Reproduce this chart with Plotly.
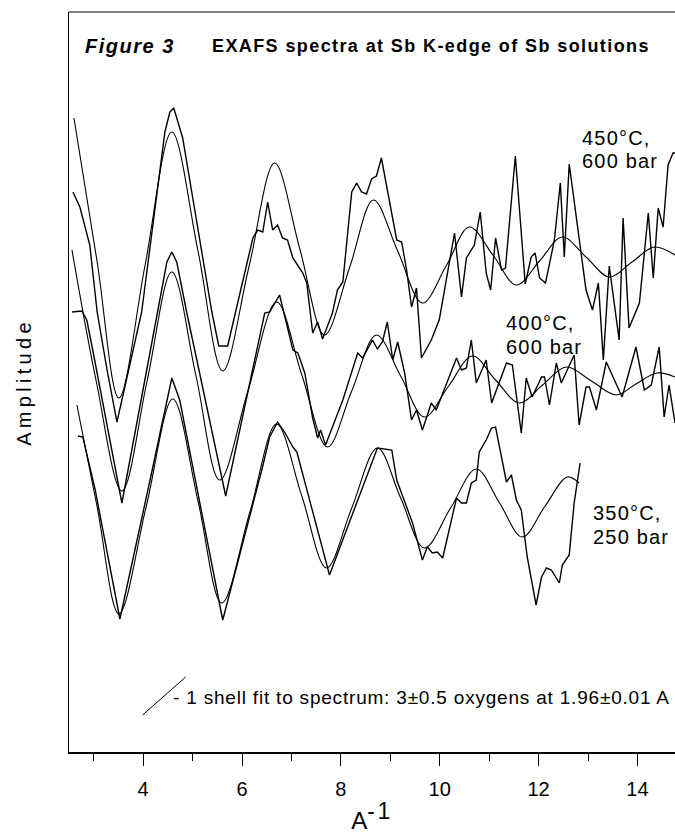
import plotly.graph_objects as go

# ---------------- data (k in A^-1, amplitude in arbitrary offset units) ----------------
k_450_exp = [2.58, 2.72, 2.92, 3.07, 3.27, 3.47, 3.97, 4.44, 4.54, 4.62, 4.80, 5.11, 5.39, 5.53, 5.71,
             5.95, 6.22, 6.32, 6.42, 6.52, 6.62, 6.72, 6.82, 6.92, 7.03, 7.23, 7.31, 7.43, 7.53, 7.63,
             7.83, 7.93, 8.04, 8.22, 8.32, 8.42, 8.52, 8.62, 8.72, 8.82, 8.98, 9.13, 9.23, 9.33, 9.43,
             9.53, 9.63, 9.83, 9.99, 10.30, 10.44, 10.54, 10.70, 10.82, 10.94, 11.03, 11.13, 11.25,
             11.33, 11.53, 11.73, 11.85, 11.93, 12.02, 12.14, 12.32, 12.44, 12.52, 12.62, 12.82,
             12.96, 13.09, 13.21, 13.31, 13.43, 13.63, 13.71, 13.83, 14.04, 14.22, 14.32, 14.42,
             14.52, 14.62, 14.72, 14.76]
a_450_exp = [56.0, 54.5, 50.7, 44.0, 38.2, 33.0, 44.0, 62.0, 64.0, 64.4, 61.4, 52.2, 44.0, 40.6, 40.6,
             45.7, 51.4, 52.2, 52.0, 55.0, 52.2, 52.7, 51.4, 51.2, 49.4, 47.9, 46.9, 41.9, 43.0, 41.3,
             43.9, 46.2, 47.0, 56.0, 56.9, 56.0, 55.8, 57.3, 57.6, 59.4, 55.2, 51.2, 51.0, 48.2, 44.5,
             46.4, 39.4, 41.2, 43.2, 51.9, 45.5, 49.4, 50.7, 54.0, 47.9, 46.2, 51.4, 48.2,
             48.4, 59.6, 46.8, 49.5, 49.9, 47.4, 46.9, 51.2, 56.9, 49.5, 58.8, 51.2,
             46.2, 44.2, 46.9, 39.2, 48.6, 41.2, 53.4, 42.4, 44.9, 53.9, 47.4, 54.4,
             52.5, 58.7, 59.9, 59.9]

k_450_fit = [2.60, 3.07, 3.51, 4.04, 4.58, 5.11, 5.61, 6.14, 6.66, 7.17, 7.67, 8.18, 8.66, 9.15,
             9.65, 10.14, 10.60, 11.09, 11.55, 12.02, 12.48, 12.96, 13.43, 13.89, 14.34, 14.76]
a_450_fit = [63.4, 49.0, 35.4, 48.7, 62.0, 50.1, 38.1, 48.5, 58.9, 50.3, 41.7, 48.5, 55.2, 50.1,
             44.9, 48.7, 52.5, 49.6, 46.7, 49.1, 51.5, 49.5, 47.5, 49.0, 50.5, 49.7]

k_400_exp = [2.56, 2.76, 2.86, 2.98, 3.57, 4.30, 4.48, 4.58, 4.68, 4.88, 5.67, 6.46, 6.56, 6.76,
             7.03, 7.13, 7.27, 7.43, 7.53, 7.59, 7.69, 8.04, 8.34, 8.44, 8.64, 8.74, 8.84, 8.94,
             9.05, 9.15, 9.29, 9.43, 9.53, 9.65, 9.83, 9.93, 10.14, 10.34, 10.44, 10.54, 10.64,
             10.74, 10.94, 11.05, 11.35, 11.47, 11.65, 11.75, 11.87, 12.06, 12.12, 12.22, 12.36,
             12.46, 12.72, 12.82, 12.96, 13.03, 13.17, 13.37, 13.69, 13.97, 14.14, 14.28, 14.44,
             14.54, 14.64, 14.76]
a_400_exp = [44.0, 44.1, 43.2, 40.2, 24.9, 44.0, 49.0, 50.0, 49.0, 44.0, 25.6, 43.9, 44.0, 45.7,
             40.2, 39.9, 37.9, 33.4, 31.4, 32.2, 30.7, 35.2, 39.9, 39.4, 41.2, 40.3, 41.0, 43.0,
             39.2, 41.0, 37.9, 33.2, 34.2, 32.2, 34.9, 34.2, 36.9, 39.4, 38.2, 38.4, 41.2,
             36.9, 39.2, 34.9, 38.9, 38.7, 31.9, 37.4, 35.5, 37.5, 37.5, 34.7, 38.9,
             36.9, 39.7, 32.7, 36.5, 36.5, 34.2, 39.0, 35.5, 40.5, 36.2, 36.7, 40.5,
             33.5, 36.7, 32.9]

k_400_fit = [2.56, 3.05, 3.57, 4.08, 4.58, 5.07, 5.55, 6.12, 6.70, 7.21, 7.73, 8.22, 8.72, 9.21,
             9.69, 10.18, 10.66, 11.13, 11.61, 12.08, 12.56, 13.07, 13.57, 13.97, 14.40, 14.76]
a_400_fit = [50.2, 37.1, 26.1, 37.1, 48.0, 37.6, 27.2, 36.1, 45.0, 37.7, 30.5, 36.1, 41.7, 37.6,
             33.5, 36.6, 39.6, 37.2, 34.9, 36.7, 38.5, 37.1, 35.7, 36.8, 37.9, 37.5]

k_350_exp = [2.68, 2.78, 3.03, 3.53, 4.14, 4.58, 4.74, 5.61, 6.40, 6.56, 6.72, 6.86, 7.03, 7.11,
             7.77, 8.58, 8.74, 9.03, 9.13, 9.45, 9.65, 9.75, 9.85, 9.95, 10.06, 10.34, 10.44,
             10.54, 10.64, 10.74, 10.80, 10.94, 11.05, 11.13, 11.35, 11.45, 11.55, 11.65, 11.77,
             11.95, 12.06, 12.16, 12.26, 12.42, 12.48, 12.62, 12.72, 12.84]
a_350_exp = [31.6, 31.5, 26.2, 13.3, 27.2, 37.4, 35.2, 13.2, 28.2, 31.5, 33.0, 32.0, 30.5, 30.0,
             17.7, 28.2, 30.4, 30.2, 27.2, 22.9, 19.2, 20.5, 19.9, 20.0, 19.4, 25.4, 24.9,
             24.9, 26.9, 27.2, 30.0, 31.2, 32.4, 32.5, 27.0, 27.7, 25.2, 24.2, 19.5,
             14.7, 17.5, 18.4, 18.2, 16.9, 18.7, 19.7, 24.9, 28.9]

k_350_fit = [2.66, 3.07, 3.51, 4.06, 4.60, 5.11, 5.59, 6.16, 6.70, 7.21, 7.71, 8.22, 8.74, 9.21,
             9.69, 10.22, 10.74, 11.21, 11.67, 12.12, 12.58, 12.82]
a_350_fit = [34.7, 24.5, 13.8, 24.5, 35.3, 25.1, 14.9, 24.0, 32.8, 25.6, 18.4, 24.4, 30.4, 25.4,
             20.4, 24.4, 28.3, 24.9, 21.5, 24.5, 27.5, 26.9]

series_labels = [("450°C,", "600 bar"), ("400°C,", "600 bar"), ("350°C,", "250 bar")]
label_k = [12.84, 11.31, 13.07]
label_amp = [(61.4, 59.1), (42.9, 40.5), (23.9, 21.5)]

x_ticks = [4, 6, 8, 10, 12, 14]
x_range = [2.5, 14.76]
y_range = [0, 74]

legend_key_k = [3.99, 4.86]
legend_key_amp = [3.7, 7.5]
legend_text = "- 1 shell fit to spectrum: 3±0.5 oxygens at 1.96±0.01 A"

FONT = "Liberation Sans, Arial, Helvetica, sans-serif"


def spaced(text, px):
    return f'<span style="letter-spacing:{px}px">{text}</span>'


fig = go.Figure()
pairs = [(k_450_exp, a_450_exp, k_450_fit, a_450_fit, "450°C, 600 bar"),
         (k_400_exp, a_400_exp, k_400_fit, a_400_fit, "400°C, 600 bar"),
         (k_350_exp, a_350_exp, k_350_fit, a_350_fit, "350°C, 250 bar")]
for ke, ae, kf, af, name in pairs:
    fig.add_trace(go.Scatter(x=ke, y=ae, mode="lines", name=name + " spectrum",
                             line=dict(color="black", width=1.4), showlegend=False))
    fig.add_trace(go.Scatter(x=kf, y=af, mode="lines", name=name + " fit",
                             line=dict(color="black", width=1.1, shape="spline", smoothing=1.0),
                             showlegend=False))

annotations = []
for (l1, l2), kx, (y1, y2) in zip(series_labels, label_k, label_amp):
    for txt, yy in ((l1, y1), (l2, y2)):
        annotations.append(dict(x=kx, y=yy, xref="x", yref="y", text=spaced(txt, 1.2),
                                showarrow=False, xanchor="left", yanchor="middle",
                                font=dict(family=FONT, size=20, color="black")))

annotations.append(dict(x=4.56, y=5.5, xref="x", yref="y", text=spaced(legend_text, 0.8),
                        showarrow=False, xanchor="left", yanchor="middle",
                        font=dict(family=FONT, size=19, color="black")))
annotations.append(dict(x=(83 - 69) / 606, y=(752 - 46) / 740, xref="paper", yref="paper",
                        text="<b><i>" + spaced("Figure 3", 1.5) + "</i></b>",
                        showarrow=False, xanchor="left", yanchor="middle",
                        font=dict(family=FONT, size=20, color="black")))

fig.update_layout(
    width=675, height=834,
    margin=dict(l=69, r=0, t=12, b=82, autoexpand=False),
    paper_bgcolor="white", plot_bgcolor="white",
    font=dict(family=FONT, size=20, color="black"),
    title=dict(text="<b>" + spaced("EXAFS spectra at Sb K-edge of Sb solutions", 1.4) + "</b>",
               x=212 / 675, xanchor="left", xref="container",
               y=1 - 46 / 834, yanchor="middle", yref="container",
               font=dict(family=FONT, size=18, color="black")),
    annotations=annotations,
    shapes=[dict(type="line", xref="paper", yref="paper", x0=0, x1=1, y0=1, y1=1,
                 line=dict(color="black", width=1)),
            dict(type="line", xref="x", yref="y", x0=legend_key_k[0], x1=legend_key_k[1],
                 y0=legend_key_amp[0], y1=legend_key_amp[1], line=dict(color="black", width=1))],
    showlegend=False,
    hovermode=False,
)

fig.update_xaxes(range=x_range, tickvals=x_ticks, ticktext=[str(t) for t in x_ticks],
                 showline=True, linecolor="black", linewidth=2, mirror=False,
                 ticks="outside", ticklen=12, tickwidth=1, tickcolor="black",
                 minor=dict(dtick=1, tick0=0, ticks="outside", ticklen=7, tickwidth=1, tickcolor="black"),
                 ticklabelstandoff=6, automargin=False,
                 tickfont=dict(family=FONT, size=20, color="black"),
                 showgrid=False, zeroline=False,
                 title=dict(text='A<sup><span style="font-size:23px">' + spaced("-1", 2.5) + '</span></sup>',
                            font=dict(family=FONT, size=24, color="black"), standoff=34))
fig.update_yaxes(range=y_range, showline=True, linecolor="black", linewidth=1.5, automargin=False,
                 showticklabels=False, ticks="", showgrid=False, zeroline=False,
                 title=dict(text=spaced("Amplitude", 4.3),
                            font=dict(family=FONT, size=20, color="black"), standoff=30))

fig.write_html("out.html", config={"displayModeBar": False, "staticPlot": True},
               post_script="document.body.style.margin='0';document.body.style.overflow='hidden';")
